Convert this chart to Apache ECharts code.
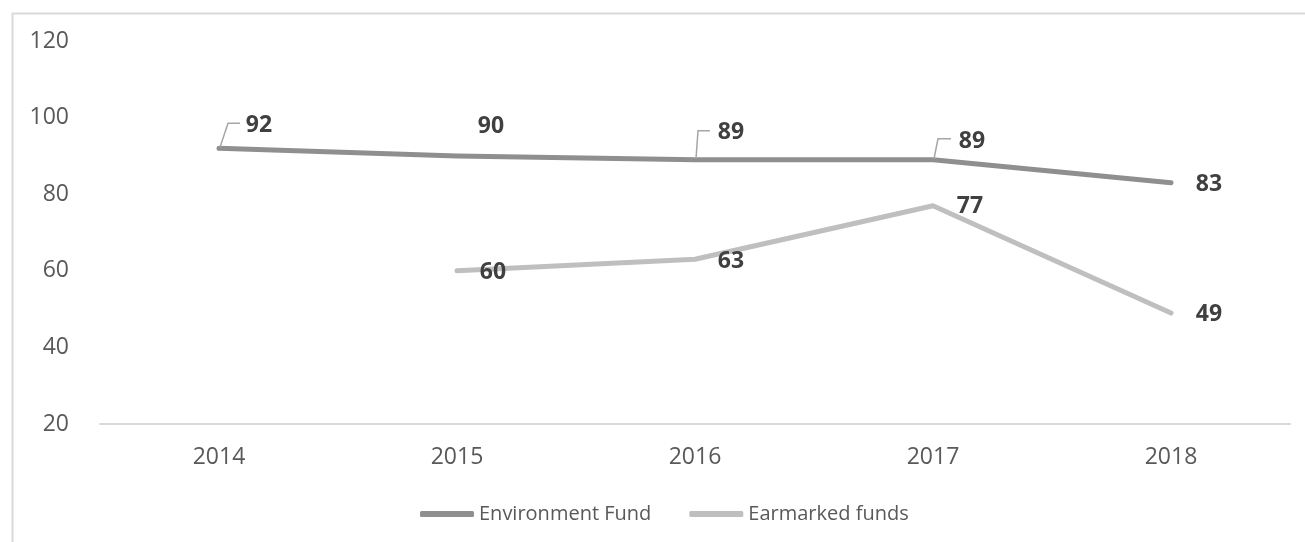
<!DOCTYPE html>
<html>
<head>
<meta charset="utf-8">
<script src="https://cdn.jsdelivr.net/npm/echarts@6/dist/echarts.min.js"></script>
<style>
  html, body { margin: 0; padding: 0; background: #fff; }
  #chart { width: 1305px; height: 542px; }
</style>
</head>
<body>
<div id="chart"></div>
<script>
// Years on the category axis
const years = ['2014', '2015', '2016', '2017', '2018'];
// Series values
const environmentFund = [92, 90, 89, 89, 83];
const earmarkedFunds = [null, 60, 63, 77, 49];
// Y axis ticks
const yMin = 20, yMax = 120, yStep = 20;

// Label placement (pixel offsets from the point to the label centre)
const efLabelOffsets = [[40, -23], [34, -29], [36, -27], [39, -18], [38, 2]];
const emLabelOffsets = [null, [36, 2], [36, 2], [37, 1], [38, 2]];
// Leader lines for some Environment Fund labels: [point index, bend offset, end offset]
const efLeaders = [
  [0, [9, -25], [21, -25]],
  [2, [3, -29], [15, -29]],
  [3, [5, -21], [18, -21]]
];

const FONT = 'Open Sans';
const DARK = '#8f8f8f';
const LIGHT = '#bfbfbf';

function withLabels(values, offsets) {
  return values.map((v, i) => {
    if (v === null) return null;
    return { value: v, label: { offset: offsets[i] } };
  });
}

const chart = echarts.init(document.getElementById('chart'), null, { renderer: 'canvas' });

const labelStyle = {
  show: true,
  position: 'inside',
  color: '#404040',
  fontFamily: FONT,
  fontWeight: 'bold',
  fontSize: 23
};

chart.setOption({
  animation: false,
  backgroundColor: '#ffffff',
  graphic: [{
    type: 'rect',
    left: 10, top: 11,
    shape: { width: 1320, height: 560 },
    style: { fill: 'none', stroke: '#d9d9d9', lineWidth: 2 },
    silent: true, z: -10
  }],
  grid: { left: 100, right: 15, top: 41, bottom: 118, containLabel: false },
  legend: {
    data: ['Environment Fund', 'Earmarked funds'],
    left: 415,
    top: 499,
    itemWidth: 54,
    itemHeight: 6,
    itemGap: 38,
    icon: 'roundRect',
    textStyle: { color: '#595959', fontFamily: FONT, fontSize: 20 }
  },
  xAxis: {
    type: 'category',
    data: years,
    boundaryGap: true,
    axisLine: { lineStyle: { color: '#d9d9d9', width: 2 } },
    axisTick: { show: false },
    axisLabel: { color: '#595959', fontFamily: FONT, fontSize: 23, margin: 22 },
    splitLine: { show: false }
  },
  yAxis: {
    type: 'value',
    min: yMin, max: yMax, interval: yStep,
    axisLine: { show: false },
    axisTick: { show: false },
    splitLine: { show: false },
    axisLabel: { color: '#595959', fontFamily: FONT, fontSize: 23, margin: 31 }
  },
  series: [
    {
      name: 'Environment Fund',
      type: 'line',
      data: withLabels(environmentFund, efLabelOffsets),
      showSymbol: true,
      symbol: 'circle',
      symbolSize: 1,
      itemStyle: { color: DARK },
      lineStyle: { color: DARK, width: 5, cap: 'round', join: 'round' },
      label: labelStyle,
      z: 3
    },
    {
      name: 'Earmarked funds',
      type: 'line',
      data: withLabels(earmarkedFunds, emLabelOffsets),
      showSymbol: true,
      symbol: 'circle',
      symbolSize: 1,
      itemStyle: { color: LIGHT },
      lineStyle: { color: LIGHT, width: 5, cap: 'round', join: 'round' },
      label: labelStyle,
      z: 2
    },
    {
      name: 'leaders',
      type: 'custom',
      silent: true,
      z: 4,
      data: efLeaders.map(l => [l[0], environmentFund[l[0]]]),
      renderItem: function (params, api) {
        const p = api.coord([api.value(0), api.value(1)]);
        const l = efLeaders[params.dataIndex];
        return {
          type: 'polyline',
          shape: {
            points: [
              [p[0] + 1, p[1] - 1],
              [p[0] + l[1][0], p[1] + l[1][1]],
              [p[0] + l[2][0], p[1] + l[2][1]]
            ]
          },
          style: { stroke: '#a6a6a6', lineWidth: 1.5, fill: 'none' }
        };
      }
    }
  ]
});
</script>
</body>
</html>
